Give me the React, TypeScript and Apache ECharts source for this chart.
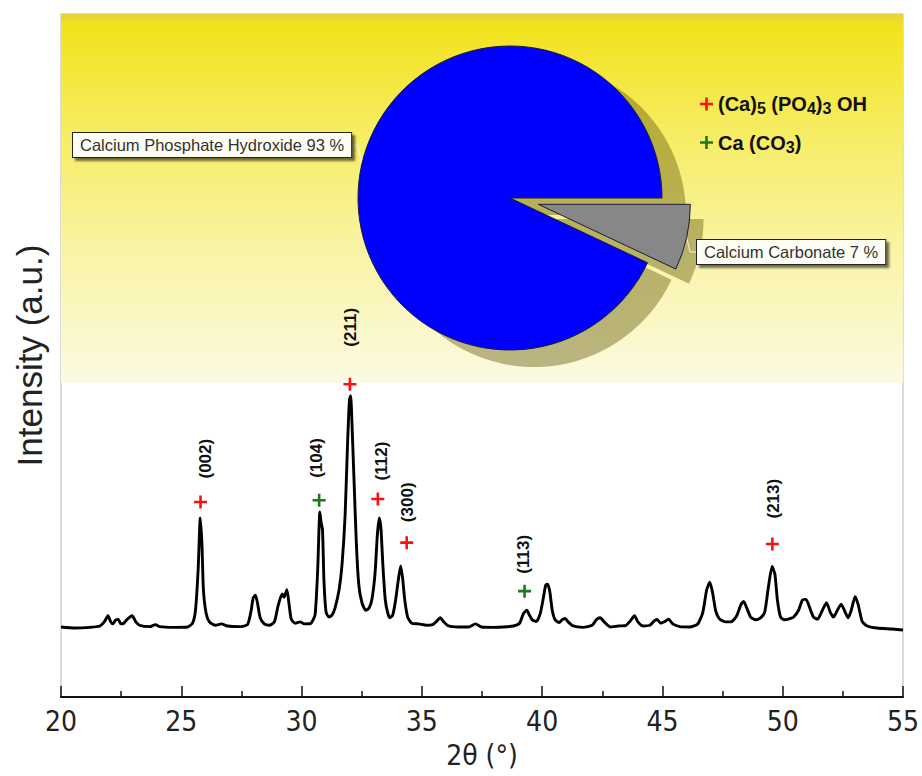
import React, { useEffect, useRef } from 'react';
import * as echarts from 'echarts';

// ---- XRD pattern (2θ in degrees, intensity in arbitrary units) ----
const xrdTheta = [
  20.0, 20.58, 21.2, 21.62, 21.82, 21.95, 22.07, 22.15, 22.28, 22.38,
  22.49, 22.61, 22.73, 22.96, 23.11, 23.27, 23.69, 23.93, 24.1, 24.72,
  25.26, 25.47, 25.59, 25.7, 25.79, 25.86, 25.92, 26.03, 26.17, 26.42,
  26.67, 26.92, 27.41, 27.75, 27.89, 27.99, 28.08, 28.16, 28.28, 28.45,
  28.66, 28.87, 29.02, 29.19, 29.27, 29.39, 29.48, 29.57, 29.73, 29.94,
  30.11, 30.39, 30.56, 30.67, 30.76, 30.81, 30.87, 30.93, 31.02, 31.14,
  31.27, 31.39, 31.56, 31.68, 31.81, 31.91, 31.99, 32.04, 32.09, 32.18,
  32.28, 32.38, 32.51, 32.67, 32.8, 32.92, 33.05, 33.15, 33.23, 33.3,
  33.38, 33.48, 33.59, 33.67, 33.79, 33.91, 34.02, 34.12, 34.2, 34.29,
  34.41, 34.58, 34.87, 35.2, 35.45, 35.62, 35.76, 35.91, 36.11, 36.53,
  36.94, 37.23, 37.48, 37.98, 38.39, 38.81, 39.06, 39.22, 39.36, 39.47,
  39.59, 39.76, 39.92, 40.05, 40.15, 40.23, 40.32, 40.42, 40.54, 40.71,
  40.83, 40.96, 41.08, 41.29, 41.7, 42.08, 42.25, 42.41, 42.58, 42.83,
  43.16, 43.49, 43.66, 43.84, 43.98, 44.19, 44.48, 44.65, 44.77, 44.94,
  45.1, 45.26, 45.43, 45.72, 46.14, 46.47, 46.68, 46.84, 46.97, 47.09,
  47.21, 47.38, 47.63, 47.88, 48.09, 48.26, 48.38, 48.51, 48.67, 48.88,
  49.08, 49.25, 49.39, 49.56, 49.68, 49.78, 49.91, 50.07, 50.24, 50.45,
  50.66, 50.82, 50.97, 51.11, 51.28, 51.45, 51.61, 51.82, 51.98, 52.11,
  52.23, 52.43, 52.6, 52.72, 52.85, 53.01, 53.14, 53.3, 53.51, 53.92,
  54.54, 55.0,
];
const xrdIntensity = [
  10.25, 10.1, 10.2, 10.4, 11.1, 11.9, 11.0, 10.7, 11.3, 11.35,
  10.7, 10.8, 11.3, 11.9, 11.0, 10.5, 10.3, 10.6, 10.3, 10.2,
  10.25, 10.8, 12.7, 18.6, 26.2, 22.3, 15.7, 12.3, 11.0, 10.5,
  10.7, 10.4, 10.3, 10.6, 12.4, 14.5, 14.9, 13.9, 11.6, 10.7,
  10.5, 11.0, 13.3, 15.1, 14.6, 15.7, 13.6, 11.4, 10.8, 11.0,
  10.7, 10.8, 12.0, 18.6, 27.1, 25.6, 24.5, 17.1, 12.4, 11.7,
  12.0, 13.0, 15.7, 19.3, 26.6, 36.9, 43.5, 44.1, 40.6, 31.8,
  22.3, 16.4, 13.8, 12.7, 13.0, 14.2, 17.9, 23.7, 26.2, 24.7,
  19.3, 14.2, 12.2, 11.6, 12.0, 14.2, 17.1, 19.2, 17.4, 14.2,
  11.7, 10.8, 10.7, 10.5, 10.6, 11.1, 11.6, 11.0, 10.4, 10.25,
  10.25, 10.7, 10.25, 10.2, 10.25, 10.4, 10.8, 12.2, 12.7, 12.0,
  11.3, 11.05, 12.2, 14.5, 16.4, 16.5, 15.4, 12.7, 11.3, 10.9,
  11.3, 11.5, 11.0, 10.4, 10.2, 10.5, 11.3, 11.6, 11.0, 10.25,
  10.4, 10.5, 11.1, 11.9, 11.0, 10.4, 10.5, 11.1, 11.35, 10.8,
  11.05, 11.4, 10.7, 10.3, 10.25, 10.7, 12.4, 15.7, 16.8, 15.2,
  12.7, 11.4, 11.0, 11.05, 11.9, 13.5, 14.0, 13.0, 11.7, 11.3,
  11.6, 12.4, 15.7, 19.1, 17.9, 14.2, 11.7, 11.3, 11.4, 11.7,
  12.7, 14.2, 14.3, 13.2, 11.7, 11.4, 12.4, 13.8, 12.4, 11.7,
  12.4, 13.6, 12.4, 11.6, 12.7, 14.7, 13.5, 11.1, 10.4, 10.1,
  9.95, 9.8,
];

// ---- indexed peaks ----
const peakTheta = [25.8, 30.73, 32.01, 33.17, 34.37, 39.27, 49.57];
const peakMarkY = [28.55, 28.8, 45.8, 29.0, 22.6, 15.5, 22.4];
const peakHkl = ['(002)', '(104)', '(211)', '(112)', '(300)', '(113)', '(213)'];
const peakPhase = [0, 1, 0, 0, 0, 1, 0];
const phaseNames = ['(Ca)5 (PO4)3 OH', 'Ca (CO3)'];
const phaseLegendText = ['(Ca){s|5} (PO{s|4}){s|3} OH', 'Ca (CO{s|3})'];

// ---- phase composition (pie) ----
const pieNames = ['Calcium Carbonate', 'Calcium Phosphate Hydroxide'];
const pieValues = [7, 93];

// ---- axis ----
const xMin = 20;
const xMax = 55;
const xInterval = 5;
const yMin = 0;
const yMax = 100;
const highlightFrom = 46;

// style-only tweaks for hkl label placement (gap above marker, sideways shift)
const labelGap = [17, 16, 31, 12, 14, 11, 19];
const labelShift = [5, -3, 1, 4, 1, -1, 1];

const phaseColors = ['#ff1010', '#1a7a1a'];
const sliceColors = ['#878787', '#0000fe'];
const plusPath = 'path://M4,0H6V4H10V6H6V10H4V6H0V4H4Z';
const narrow = "'Liberation Sans Narrow', 'Arial Narrow', 'DejaVu Sans Condensed', 'Liberation Sans', Arial, sans-serif";
const sans = "'Liberation Sans', Arial, Helvetica, sans-serif";

export default function App() {
  const ref = useRef<HTMLDivElement>(null);

  useEffect(() => {
    if (!ref.current) return;
    const chart = echarts.init(ref.current, undefined, { renderer: 'svg' });

    const lineData = xrdTheta.map((t, i) => [t, xrdIntensity[i]]);

    const markerSeries = phaseNames.map((name, p) => ({
      type: 'scatter',
      name,
      symbol: plusPath,
      symbolSize: 13,
      itemStyle: { color: phaseColors[p], opacity: 1 },
      z: 5,
      silent: true,
      label: {
        show: true,
        formatter: '{b}',
        position: 'top',
        rotate: 90,
        align: 'left',
        verticalAlign: 'middle',
        fontFamily: sans,
        fontWeight: 'bold',
        fontSize: 17,
        color: '#111',
      },
      data: peakTheta
        .map((t, i) => ({ t, i }))
        .filter(({ i }) => peakPhase[i] === p)
        .map(({ t, i }) => ({
          name: peakHkl[i],
          value: [t, peakMarkY[i]],
          label: { distance: labelGap[i], offset: [0, labelShift[i]] },
        })),
    }));

    // pie geometry (pixels); the 7 % slice is pulled out along its bisector
    const R = 152;
    const cx = 510;
    const cy = 198;
    const explode = 29;
    const shadowDx = 24;
    const shadowDy = 17;
    const shadowExplode = 18;
    const bis = ((pieValues[0] / (pieValues[0] + pieValues[1])) * 360) / 2 * (Math.PI / 180);
    const exX = (d: number) => Math.cos(bis) * d;
    const exY = (d: number) => Math.sin(bis) * d;

    const labelBox = {
      show: true,
      formatter: (p: any) => `${p.name} ${p.value} %`,
      fontFamily: sans,
      fontSize: 16.5,
      color: '#333',
      backgroundColor: '#fdfdf3',
      borderColor: '#222',
      borderWidth: 1,
      padding: [4, 7, 3, 7],
      shadowColor: 'rgba(0,0,0,0.55)',
      shadowBlur: 2,
      shadowOffsetX: 3,
      shadowOffsetY: 3,
    };
    const hidden = { label: { show: false }, labelLine: { show: false }, itemStyle: { color: 'rgba(0,0,0,0)', borderWidth: 0 } };

    // one pie per slice so that each slice can sit at its own centre
    const pieSeries = (slice: number, center: number[], color: string | null, withLabel: boolean, z: number) => ({
      type: 'pie',
      name: color ? 'shadow' : 'Composition',
      silent: true,
      center,
      radius: R,
      startAngle: 0,
      clockwise: true,
      emphasis: { disabled: true },
      z,
      itemStyle: color ? { color, borderWidth: 0 } : { borderColor: '#1a1a3a', borderWidth: 1 },
      label: withLabel ? labelBox : { show: false },
      labelLine: withLabel
        ? { show: true, length: 6, length2: 6, lineStyle: { color: '#f4f4f4', width: 1 } }
        : { show: false },
      labelLayout: withLabel
        ? (params: any) =>
            params.dataIndex === 1
              ? { x: 73, y: 145, align: 'left', verticalAlign: 'middle' }
              : { x: 697, y: 252, align: 'left', verticalAlign: 'middle' }
        : undefined,
      data: pieNames.map((n, i) =>
        i === slice
          ? { name: n, value: pieValues[i], itemStyle: color ? { color } : { color: sliceColors[i] } }
          : { name: n, value: pieValues[i], ...hidden },
      ),
    });

    chart.setOption({
      animation: false,
      grid: { left: 61, right: 16, top: 14, bottom: 79, show: true, borderColor: '#b8b8b8', borderWidth: 1 },
      legend: {
        orient: 'vertical',
        left: 695,
        top: 89,
        itemGap: 16,
        itemWidth: 13,
        itemHeight: 13,
        icon: plusPath,
        data: phaseNames,
        selectedMode: false,
        formatter: (name: string) => phaseLegendText[phaseNames.indexOf(name)],
        textStyle: {
          fontFamily: sans,
          fontWeight: 'bold',
          fontSize: 20,
          color: '#111',
          rich: {
            s: { fontFamily: sans, fontWeight: 'bold', fontSize: 16, color: '#111', padding: [9, 0, 0, 0] },
          },
        },
      },
      xAxis: {
        type: 'value',
        min: xMin,
        max: xMax,
        interval: xInterval,
        name: '2θ (°)',
        nameLocation: 'middle',
        nameGap: 44,
        nameTextStyle: { fontFamily: narrow, fontSize: 28, color: '#222' },
        axisLine: { show: true, onZero: false, lineStyle: { color: '#111', width: 2 } },
        axisTick: { show: true, inside: true, length: 11, lineStyle: { color: '#111', width: 1.5 } },
        minorTick: { show: true, splitNumber: 2, length: 6, lineStyle: { color: '#111', width: 1.5 } },
        axisLabel: { fontFamily: narrow, fontSize: 28, color: '#222', margin: 10 },
        splitLine: { show: false },
      },
      yAxis: {
        type: 'value',
        min: yMin,
        max: yMax,
        name: 'Intensity (a.u.)',
        nameLocation: 'middle',
        nameGap: 14,
        nameTextStyle: { fontFamily: sans, fontSize: 35, color: '#222' },
        axisLine: { show: false },
        axisTick: { show: false },
        axisLabel: { show: false },
        splitLine: { show: false },
      },
      series: [
        {
          type: 'line',
          name: 'XRD',
          data: lineData,
          showSymbol: false,
          smooth: 0.2,
          silent: true,
          lineStyle: { color: '#000', width: 2.9 },
          z: 3,
          markArea: {
            silent: true,
            itemStyle: {
              color: new echarts.graphic.LinearGradient(0, 0, 0, 1, [
                { offset: 0, color: '#e2d23a' },
                { offset: 0.03, color: '#f2e21c' },
                { offset: 0.3, color: '#f6ec5e' },
                { offset: 0.65, color: '#f9f4a6' },
                { offset: 1, color: '#fcfae2' },
              ]),
            },
            data: [[{ yAxis: highlightFrom }, { yAxis: yMax }]],
          },
        },
        ...markerSeries,
        pieSeries(1, [cx + shadowDx, cy + shadowDy], 'rgba(95,85,10,0.42)', false, 1),
        pieSeries(0, [cx + shadowDx + exX(shadowExplode), cy + shadowDy + exY(shadowExplode)], 'rgba(95,85,10,0.42)', false, 1),
        pieSeries(1, [cx, cy], null, true, 2),
        pieSeries(0, [cx + exX(explode), cy + exY(explode)], null, true, 2),
      ],
    });

    return () => chart.dispose();
  }, []);

  return <div ref={ref} style={{ position: 'absolute', left: 0, top: 0, width: 922, height: 776 }} />;
}
